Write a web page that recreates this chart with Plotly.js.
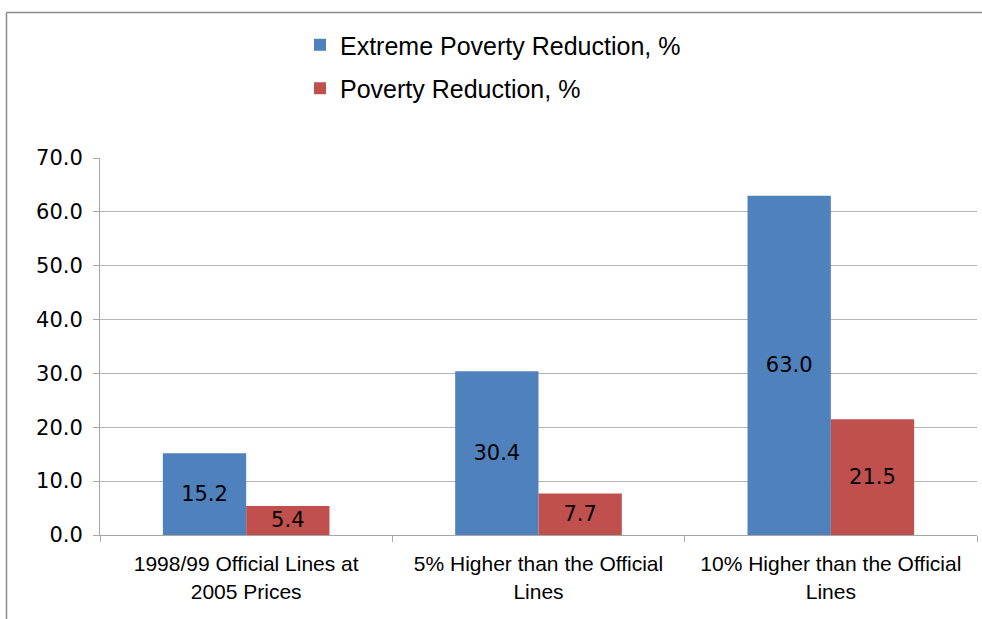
<!DOCTYPE html>
<html>
<head>
<meta charset="utf-8">
<script src="https://cdn.plot.ly/plotly-3.0.1.min.js"></script>
<style>
  html, body { margin: 0; padding: 0; background: #ffffff; }
  #chart { width: 982px; height: 619px; }
</style>
</head>
<body>
<div id="chart"></div>
<script>
// Poverty line scenarios
const categories = [
  "1998/99 Official Lines at<br>2005 Prices",
  "5% Higher than the Official<br>Lines",
  "10% Higher than the Official<br>Lines"
];
const extremePovertyReduction = [15.2, 30.4, 63.0];
const povertyReduction = [5.4, 7.7, 21.5];
const yTicks = [0, 10, 20, 30, 40, 50, 60, 70];

const W = 982, H = 619;
const M = { l: 100, r: 5, t: 158, b: 84 };
const plotW = W - M.l - M.r, plotH = H - M.t - M.b;

const labelFont = { family: "DejaVu Sans", size: 21, color: "#000000" };

const traces = [
  {
    type: "bar",
    name: "Extreme Poverty Reduction, %",
    x: categories,
    y: extremePovertyReduction,
    marker: { color: "#4F81BD" },
    texttemplate: "%{y:.1f}",
    textposition: "inside",
    insidetextanchor: "middle",
    constraintext: "none",
    textfont: labelFont,
    legendgroup: "a",
    hoverinfo: "skip"
  },
  {
    type: "bar",
    name: "Poverty Reduction, %",
    x: categories,
    y: povertyReduction,
    marker: { color: "#C0504D" },
    texttemplate: "%{y:.1f}",
    textposition: "inside",
    insidetextanchor: "middle",
    constraintext: "none",
    textfont: labelFont,
    legendgroup: "b",
    hoverinfo: "skip"
  }
];

// frame around the figure (left and top edges visible)
const px = v => (v - M.l) / plotW;
const py = v => 1 - (v - M.t) / plotH;

const layout = {
  width: W,
  height: H,
  margin: M,
  paper_bgcolor: "#ffffff",
  plot_bgcolor: "#ffffff",
  barmode: "group",
  bargap: 0.43,
  bargroupgap: 0,
  showlegend: true,
  legend: {
    orientation: "v",
    x: px(300),
    y: py(22),
    xanchor: "left",
    yanchor: "top",
    traceorder: "grouped",
    tracegroupgap: 8,
    font: { family: "Liberation Sans", size: 25, color: "#000000" },
    bgcolor: "rgba(0,0,0,0)"
  },
  xaxis: {
    type: "category",
    showline: true,
    linecolor: "#a6a6a6",
    linewidth: 1,
    ticks: "outside",
    tickson: "boundaries",
    ticklen: 6,
    tickcolor: "#a6a6a6",
    showgrid: false,
    ticklabelstandoff: 10,
    tickfont: { family: "Liberation Sans", size: 21, color: "#000000" },
    fixedrange: true
  },
  yaxis: {
    range: [0, 70],
    tickvals: yTicks,
    tickformat: ".1f",
    showline: true,
    linecolor: "#a6a6a6",
    linewidth: 1,
    ticks: "outside",
    ticklen: 6,
    tickcolor: "#a6a6a6",
    showgrid: true,
    gridcolor: "#b5b5b5",
    gridwidth: 1,
    zeroline: false,
    ticklabelstandoff: 6,
    tickfont: { family: "DejaVu Sans", size: 21, color: "#000000" },
    fixedrange: true
  },
  shapes: [
    {
      type: "line", xref: "paper", yref: "paper",
      x0: px(6.5), x1: px(6.5), y0: py(12.5), y1: py(H + 5),
      line: { color: "#8c8c8c", width: 1.5 }, layer: "above"
    },
    {
      type: "line", xref: "paper", yref: "paper",
      x0: px(6.5), x1: px(W + 5), y0: py(12.5), y1: py(12.5),
      line: { color: "#8c8c8c", width: 1.5 }, layer: "above"
    }
  ]
};

Plotly.newPlot("chart", traces, layout, { displayModeBar: false, staticPlot: true });
</script>
</body>
</html>
